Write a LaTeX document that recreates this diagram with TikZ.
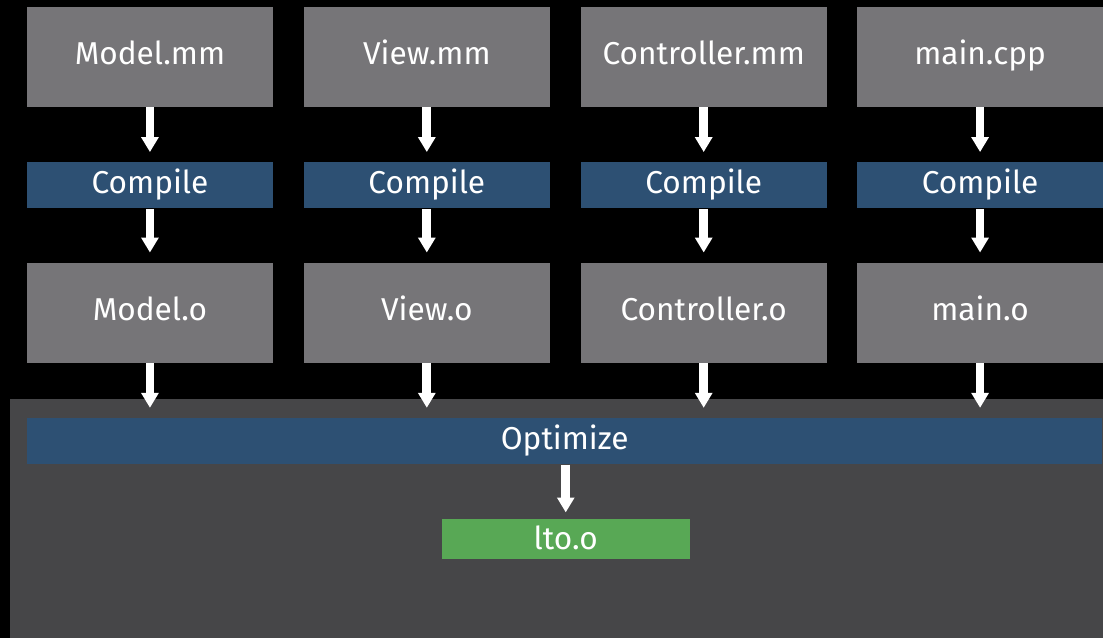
\documentclass[tikz,border=0pt]{standalone}
\usepackage{fontspec}
\setmainfont{Fira Sans}
\usetikzlibrary{arrows.meta}

\definecolor{filegray}{HTML}{767578}
\definecolor{stepblue}{HTML}{2D5073}
\definecolor{ltobg}{HTML}{464648}
\definecolor{ltogreen}{HTML}{58A855}

\tikzset{
	filebox/.style={fill=filegray, text=white, minimum width=4.92cm, minimum height=2cm, inner sep=0pt, text height=12.5pt, text depth=3.5pt, font=\fontsize{18}{21}\selectfont},
	stepbar/.style={fill=stepblue, text=white, minimum width=4.92cm, minimum height=0.92cm, inner sep=0pt, text height=12.5pt, text depth=3.5pt, font=\fontsize{18}{21}\selectfont},
	flow/.style={white, line width=5pt, -{Triangle[width=9.5pt, length=8.5pt]}, shorten >=0.2cm}
}

\begin{document}
\begin{tikzpicture}[x=0.02cm, y=-0.02cm]
		\fill[black] (0,0) rectangle (1103,638);
		\fill[ltobg] (10,399) rectangle (1103,638);

		\node[filebox] (modelmm) at (150,57) {Model.mm};
		\node[filebox] (viewmm) at (427,57) {View.mm};
		\node[filebox] (ctrlmm) at (704,57) {Controller.mm};
		\node[filebox] (maincpp) at (980.5,57) {main.cpp};

		\node[stepbar] (compA) at (150,185.5) {Compile};
		\node[stepbar] (compB) at (427,185.5) {Compile};
		\node[stepbar] (compC) at (704,185.5) {Compile};
		\node[stepbar] (compD) at (980.5,185.5) {Compile};

		\node[filebox] (modelo) at (150,313) {Model.o};
		\node[filebox] (viewo) at (427,313) {View.o};
		\node[filebox] (ctrlo) at (704,313) {Controller.o};
		\node[filebox] (maino) at (980.5,313) {main.o};

		\node[stepbar, minimum width=21.52cm] (optimize) at (565,441.5) {Optimize};
		\node[stepbar, fill=ltogreen, minimum width=4.96cm, minimum height=0.8cm, text height=14pt, text depth=2pt] (lto) at (566,539) {lto.o};

		\draw[flow] (modelmm) -- (compA);
		\draw[flow] (viewmm) -- (compB);
		\draw[flow] (ctrlmm) -- (compC);
		\draw[flow] (maincpp) -- (compD);

		\draw[flow] (compA) -- (modelo);
		\draw[flow] (compB) -- (viewo);
		\draw[flow] (compC) -- (ctrlo);
		\draw[flow] (compD) -- (maino);

		\coordinate (optA) at (150,418);
		\coordinate (optB) at (427,418);
		\coordinate (optC) at (704,418);
		\coordinate (optD) at (980.5,418);
		\draw[flow] (modelo) -- (optA);
		\draw[flow] (viewo) -- (optB);
		\draw[flow] (ctrlo) -- (optC);
		\draw[flow] (maino) -- (optD);

		\draw[flow, shorten >=0.12cm] (optimize.south -| lto) -- (lto);
	\end{tikzpicture}
\end{document}
